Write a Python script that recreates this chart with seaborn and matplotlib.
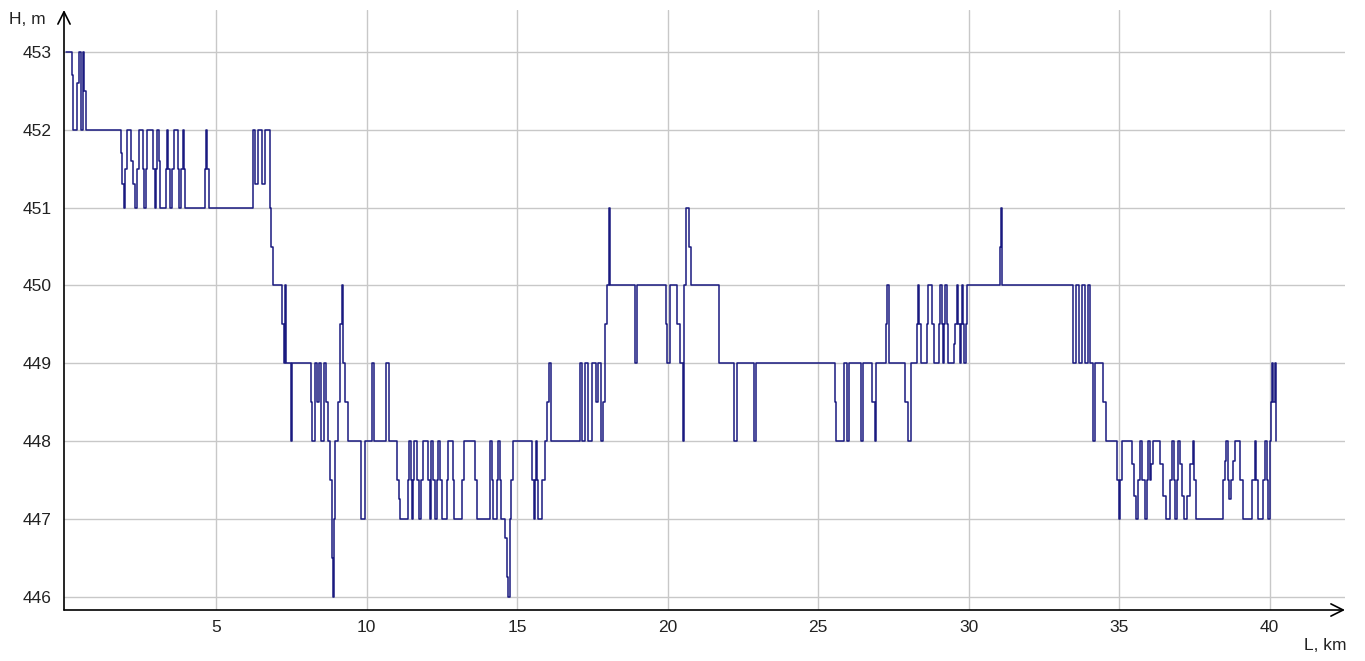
import matplotlib
matplotlib.use("Agg")
import matplotlib.pyplot as plt
import seaborn as sns
import pandas as pd

# ---- data (distance along route, km; elevation, m) ----
dist_km = [
    0.0, 0.2, 0.25, 0.38, 0.45, 0.5, 0.57, 0.63, 0.68,
    1.84, 1.89, 1.94, 1.98, 2.03, 2.18, 2.25, 2.31, 2.38, 2.44, 2.57, 2.62,
    2.66, 2.72, 2.91, 2.96, 3.0, 3.04, 3.11, 3.15, 3.34, 3.38, 3.42, 3.47,
    3.54, 3.62, 3.74, 3.78, 3.84, 3.9, 3.94, 3.98, 4.62, 4.66, 4.7, 4.75,
    6.22, 6.3, 6.4, 6.54, 6.62, 6.78, 6.82, 6.88,
    7.18, 7.25, 7.28, 7.33, 7.48, 7.53, 8.15, 8.2, 8.3, 8.36, 8.42, 8.5,
    8.6, 8.66, 8.72, 8.8, 8.85, 8.88, 8.91, 8.96, 9.05, 9.12, 9.19, 9.23,
    9.3, 9.38, 9.82, 9.96, 10.18, 10.25, 10.66, 10.74, 11.0, 11.08,
    11.11, 11.36, 11.42, 11.46, 11.5, 11.54, 11.58, 11.67, 11.74, 11.8, 11.86, 12.04,
    12.1, 12.14, 12.21, 12.28, 12.33, 12.37, 12.44, 12.5, 12.67, 12.71, 12.87, 12.92,
    13.17, 13.24, 13.6, 13.66, 14.1, 14.15, 14.2, 14.34, 14.38, 14.42, 14.47, 14.6,
    14.66, 14.7, 14.76, 14.8, 14.86, 15.5, 15.55, 15.6, 15.62, 15.66, 15.7, 15.84,
    15.92, 16.0, 16.06, 16.12, 17.1,
    17.16, 17.26, 17.36, 17.5, 17.62, 17.7, 17.78, 17.86, 17.92, 17.98, 18.04, 18.1,
    18.9, 18.93, 18.97, 19.93, 19.98, 20.08, 20.3, 20.4, 20.5, 20.56, 20.62, 20.72,
    20.78, 21.72, 22.22, 22.3, 22.88, 22.94,
    25.56, 25.6, 25.86, 25.96, 26.04, 26.42, 26.5, 26.8, 26.88, 26.93, 27.26, 27.3,
    27.36, 27.9, 27.97, 28.08, 28.28, 28.32, 28.36, 28.4, 28.6, 28.65, 28.78, 28.84,
    29.0, 29.05, 29.11, 29.14, 29.18, 29.22, 29.27, 29.32, 29.5, 29.56, 29.6, 29.64,
    29.7, 29.74, 29.77, 29.82, 29.86, 29.9, 29.94, 31.03, 31.07, 31.12, 33.46, 33.58,
    33.68, 33.78, 33.86, 33.96, 34.04, 34.14, 34.2, 34.46, 34.55, 34.94, 34.98, 35.03,
    35.08, 35.42, 35.5, 35.57, 35.64, 35.69, 35.76, 35.86, 35.92, 35.96, 36.02, 36.06,
    36.12, 36.36, 36.46, 36.56, 36.7, 36.77, 36.82, 36.86, 36.92, 36.96, 37.02, 37.1,
    37.14, 37.26, 37.36, 37.46, 37.5, 37.55, 38.44, 38.52, 38.56, 38.6, 38.66, 38.7,
    38.78, 38.84, 39.02, 39.1, 39.42, 39.5, 39.56, 39.62, 39.78, 39.84, 39.9, 39.95,
    40.0, 40.05, 40.07, 40.12, 40.16, 40.22,
]
elev_m = [
    453, 452.7, 452, 452.6, 453, 452, 453, 452.5, 452,
    451.7, 451.3, 451, 451.5, 452, 451.6, 451.3, 451, 451.5, 452, 451.5, 451,
    451.5, 452, 451.5, 451, 451.5, 452, 451.6, 451, 451.5, 452, 451.5, 451,
    451.5, 452, 451.5, 451, 451.5, 452, 451.5, 451, 451.5, 452, 451.5, 451,
    452, 451.3, 452, 451.3, 452, 451, 450.5, 450,
    449.5, 449, 450, 449, 448, 449, 448.5, 448, 449, 448.5, 449, 448,
    449, 448.5, 448, 447.5, 446.5, 446, 447, 448, 448.5, 449.5, 450, 449,
    448.5, 448, 447, 448, 449, 448, 449, 448, 447.5, 447.25,
    447, 447.5, 448, 447.5, 447, 447.5, 448, 447.5, 447, 447.5, 448, 447.5,
    447, 448, 447.5, 447, 447.5, 448, 447.5, 447, 447.5, 448, 447.5, 447,
    447.5, 448, 447.5, 447, 448, 447.5, 447, 447.5, 448, 447.5, 447, 446.75,
    446.25, 446, 447, 447.5, 448, 447.5, 447, 447.5, 448, 447.5, 447, 447.5,
    448, 448.5, 449, 448, 449,
    448, 449, 448, 449, 448.5, 449, 448, 448.5, 449.5, 450, 451, 450,
    449.5, 449, 450, 449.5, 449, 450, 449.5, 449, 448, 450, 451, 450.5,
    450, 449, 448, 449, 448, 449,
    448.5, 448, 449, 448, 449, 448, 449, 448.5, 448, 449, 449.5, 450,
    449, 448.5, 448, 449, 449.5, 450, 449.5, 449, 449.5, 450, 449.5, 449,
    449.5, 450, 449.5, 449, 449.5, 450, 449.5, 449, 449.25, 449.5, 450, 449.5,
    449, 449.5, 450, 449.5, 449, 449.5, 450, 450.5, 451, 450, 449, 450,
    449, 450, 449, 450, 449, 448, 449, 448.5, 448, 447.5, 447, 447.5,
    448, 447.7, 447.3, 447, 447.5, 448, 447.5, 447, 447.5, 448, 447.5, 447.7,
    448, 447.7, 447.3, 447, 447.5, 448, 447.5, 447, 447.5, 448, 447.7, 447.3,
    447, 447.3, 447.7, 448, 447.5, 447, 447.5, 447.75, 448, 447.5, 447.25, 447.5,
    447.75, 448, 447.5, 447, 447.5, 448, 447.5, 447, 447.5, 448, 447.5, 447,
    448, 448.5, 449, 448.5, 449, 448,
]
x_ticks = [5, 10, 15, 20, 25, 30, 35, 40]
y_ticks = [446, 447, 448, 449, 450, 451, 452, 453]

sns.set_theme(style="white")
plt.rcParams["font.family"] = ["Liberation Sans", "DejaVu Sans"]

W, H = 1365, 661
fig = plt.figure(figsize=(W / 100, H / 100), dpi=100)
fig.patch.set_facecolor("white")
ax = fig.add_axes([64 / W, 1 - 610 / H, (1345 - 64) / W, (610 - 10) / H])

df = pd.DataFrame({"L": dist_km, "H": elev_m})
sns.lineplot(data=df, x="L", y="H", ax=ax, drawstyle="steps-post",
             color="#1a1a80", linewidth=1.1, estimator=None, sort=False, zorder=3)

ax.set_xlim(-0.05, 42.5)
ax.set_ylim(445.83, 453.54)
ax.set_xticks(x_ticks)
ax.set_yticks(y_ticks)
ax.set_xticklabels([str(v) for v in x_ticks])
ax.set_yticklabels([str(v) for v in y_ticks])
ax.grid(True, color="#c8c8c8", linewidth=1.0, zorder=0)
ax.tick_params(axis="both", length=3, width=1.0, color="#c8c8c8",
               direction="out", labelsize=12.5, labelcolor="#222222")
ax.tick_params(axis="y", pad=6)
ax.tick_params(axis="x", pad=4)
ax.set_xlabel("")
ax.set_ylabel("")
for s in ax.spines.values():
    s.set_visible(False)

# axes with arrow heads
arrow_kw = dict(arrowstyle="->", color="black", lw=1.2, shrinkA=0, shrinkB=0,
                mutation_scale=22)
ax.annotate("", xy=(1.0, 0.0), xytext=(0.0, 0.0), xycoords="axes fraction",
            textcoords="axes fraction", arrowprops=arrow_kw, annotation_clip=False)
ax.annotate("", xy=(0.0, 1.0), xytext=(0.0, 0.0), xycoords="axes fraction",
            textcoords="axes fraction", arrowprops=arrow_kw, annotation_clip=False)

fig.text(9 / W, 1 - 19 / H, "H, m", ha="left", va="center", fontsize=12.5, color="#222222")
fig.text(1347 / W, 1 - 645 / H, "L, km", ha="right", va="center", fontsize=12.5, color="#222222")

fig.savefig("out.png", dpi=100, facecolor="white")
